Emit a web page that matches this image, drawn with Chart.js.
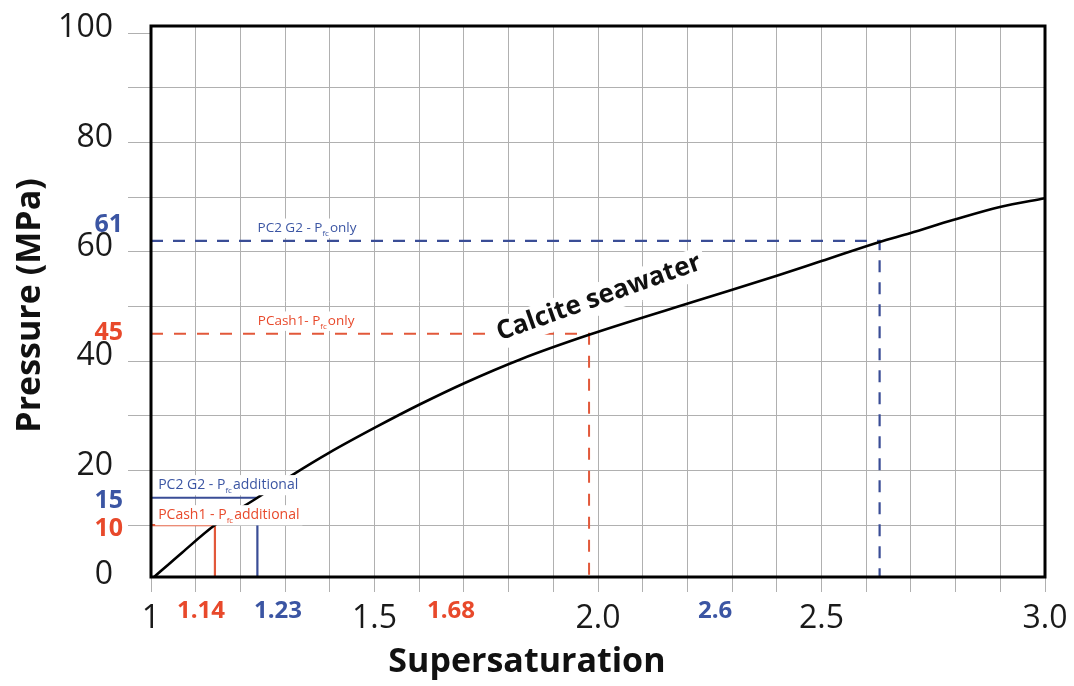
<!DOCTYPE html>
<html>
<head>
<meta charset="utf-8">
<script src="https://cdn.jsdelivr.net/npm/chart.js@4.4.1/dist/chart.umd.min.js"></script>
<style>
  html, body { margin: 0; padding: 0; background: #fff; }
  #wrap { width: 1074px; height: 686px; }
</style>
</head>
<body>
<div id="wrap"><canvas id="satChart" width="1074" height="686"></canvas></div>
<script>
// Calcite seawater curve
const supersat = [1.0, 1.07, 1.143, 1.238, 1.315, 1.40, 1.505, 1.602, 1.702, 1.826, 1.98, 2.228, 2.40, 2.50, 2.63, 2.698, 2.794, 2.899, 3.0];
const pressure = [0, 5.0, 10, 15, 19.1, 23.3, 28.0, 32.1, 36.0, 40.3, 44.8, 51.2, 55.6, 58.3, 61.8, 63.4, 65.8, 68.2, 69.8];

// guide lines: pressure level, supersaturation where they hit the curve, top of the drop line
const guideLevel = [62, 45, 15, 10];
const guideCross = [2.63, 1.98, 1.238, 1.143];
const guideDropFrom = [62, 45, 10, 10];

const xTickLabels = [1, 1.5, 2.0, 2.5, 3.0];
const yTickLabels = [0, 20, 40, 60, 80, 100];
const yMarks = ['61', '45', '15', '10'];
const xMarks = ['1.14', '1.23', '1.68', '2.6'];

const BLUE = '#3a4d96';
const BLUE_TXT = '#3b55a3';
const RED = '#e2583a';
const RED_TXT = '#e8492b';
const GRID = '#b0b0b0';
const FONT = "'Open Sans', 'Noto Sans', sans-serif";

const guideStyle = [
    { color: BLUE, dash: [12, 10], width: 2.2 },
    { color: RED, dash: [12, 11], width: 2 },
    { color: BLUE, dash: [], width: 2.2 },
    { color: RED, dash: [], width: 2.2 }
];

function guideData(i) {
    const pts = [{ x: 1, y: guideLevel[i] }, { x: guideCross[i], y: guideLevel[i] }];
    if (guideDropFrom[i] < guideLevel[i]) pts.push({ x: guideCross[i], y: null });
    pts.push({ x: guideCross[i], y: guideDropFrom[i] }, { x: guideCross[i], y: 0 });
    return pts;
}

// label text with a "fc" subscript after the P
function fcLabel(ctx, pre, post, px, py, size, color, align) {
    const main = size + 'px ' + FONT;
    const sub = Math.round(size * 0.6) + 'px ' + FONT;
    ctx.font = main;
    const w1 = ctx.measureText(pre).width;
    const w3 = ctx.measureText(post).width;
    ctx.font = sub;
    const w2 = ctx.measureText('fc').width + 1;
    const total = w1 + w2 + w3;
    const left = align === 'left' ? px : px - total / 2;
    ctx.fillStyle = '#fff';
    ctx.fillRect(left - 3, py - size * 0.72, total + 6, size * 1.44);
    ctx.fillStyle = color;
    ctx.textBaseline = 'middle';
    ctx.textAlign = 'left';
    ctx.font = main;
    ctx.fillText(pre, left, py);
    ctx.font = sub;
    ctx.fillText('fc', left + w1, py + size * 0.38);
    ctx.font = main;
    ctx.fillText(post, left + w1 + w2, py);
}

const overlay = {
    id: 'overlay',
    afterDatasetsDraw(chart) {
        const { ctx, chartArea: a, scales: { x, y } } = chart;
        ctx.save();

        // curve name, rotated along the line
        ctx.save();
        ctx.translate(x.getPixelForValue(2.002), y.getPixelForValue(51.6));
        ctx.rotate(-19.5 * Math.PI / 180);
        ctx.font = 'bold 26px ' + FONT;
        const cw = ctx.measureText('Calcite seawater').width;
        ctx.fillStyle = '#fff';
        ctx.fillRect(-cw / 2 - 5, -15, cw + 10, 32);
        ctx.fillStyle = '#111';
        ctx.textAlign = 'center';
        ctx.textBaseline = 'middle';
        ctx.fillText('Calcite seawater', 0, 0);
        ctx.restore();

        fcLabel(ctx, 'PC2 G2 - P', 'only', x.getPixelForValue(1.349), y.getPixelForValue(64.3), 13.5, BLUE_TXT, 'center');
        fcLabel(ctx, 'PCash1- P', 'only', x.getPixelForValue(1.347), y.getPixelForValue(47.3), 13.5, RED_TXT, 'center');
        fcLabel(ctx, 'PC2 G2 - P', 'additional', x.getPixelForValue(1.016), y.getPixelForValue(17.3), 14, BLUE_TXT, 'left');
        fcLabel(ctx, 'PCash1 - P', 'additional', x.getPixelForValue(1.016), y.getPixelForValue(11.8), 14, RED_TXT, 'left');

        // heavy frame
        ctx.strokeStyle = '#000';
        ctx.lineWidth = 3;
        ctx.strokeRect(a.left, a.top, a.right - a.left, a.bottom - a.top);
        ctx.restore();
    },
    afterDraw(chart) {
        const { ctx, chartArea: a, scales: { x, y } } = chart;
        ctx.save();
        ctx.font = 'bold 25px ' + FONT;
        ctx.textBaseline = 'middle';
        ctx.textAlign = 'right';
        const yAt = [64.9, 45.1, 14.4, 9.3];
        yMarks.forEach((t, i) => {
            ctx.fillStyle = i % 2 === 0 ? BLUE_TXT : RED_TXT;
            ctx.fillText(t, 123, y.getPixelForValue(yAt[i]));
        });
        ctx.textAlign = 'center';
        ctx.font = 'bold 24px ' + FONT;
        const xAt = [1.112, 1.284, 1.671, 2.262];
        const xCol = [RED_TXT, BLUE_TXT, RED_TXT, BLUE_TXT];
        xMarks.forEach((t, i) => {
            ctx.fillStyle = xCol[i];
            ctx.fillText(t, x.getPixelForValue(xAt[i]), a.bottom + 34);
        });

        // axis titles
        ctx.fillStyle = '#111';
        ctx.font = 'bold 34px ' + FONT;
        ctx.fillText('Supersaturation', x.getPixelForValue(1.841), 662);
        ctx.save();
        ctx.translate(30, (a.top + a.bottom) / 2 + 4);
        ctx.rotate(-Math.PI / 2);
        ctx.fillText('Pressure (MPa)', 0, 0);
        ctx.restore();
        ctx.restore();
    }
};

const datasets = [{
    label: 'Calcite seawater',
    data: supersat.map((s, i) => ({ x: s, y: pressure[i] })),
    borderColor: '#000',
    borderWidth: 2.6,
    pointRadius: 0,
    cubicInterpolationMode: 'monotone'
}];
guideLevel.forEach((lvl, i) => {
    datasets.push({
        label: 'guide ' + i,
        data: guideData(i),
        borderColor: guideStyle[i].color,
        borderWidth: guideStyle[i].width,
        borderDash: guideStyle[i].dash,
        pointRadius: 0,
        tension: 0,
        spanGaps: false
    });
});

new Chart(document.getElementById('satChart').getContext('2d'), {
    type: 'line',
    data: { datasets: datasets },
    options: {
        responsive: false,
        animation: false,
        layout: { padding: { top: 26, right: 29, left: 0, bottom: 0 } },
        plugins: { legend: { display: false }, tooltip: { enabled: false } },
        scales: {
            x: {
                type: 'linear',
                min: 1,
                max: 3,
                afterBuildTicks(s) {
                    s.ticks = [];
                    for (let i = 0; i <= 20; i++) s.ticks.push({ value: 1 + i / 10 });
                },
                afterFit(s) { s.height = 109; s.paddingLeft = 0; s.paddingRight = 0; },
                border: { display: false },
                grid: { color: GRID, lineWidth: 1, tickLength: 15 },
                ticks: {
                    autoSkip: false,
                    maxRotation: 0,
                    padding: 8,
                    color: '#1a1a1a',
                    font: { family: FONT, size: 32, weight: 'normal' },
                    callback(v) {
                        const m = xTickLabels.find(t => Math.abs(t - v) < 1e-6);
                        if (m === undefined) return '';
                        return m === 1 ? '1' : m.toFixed(1);
                    }
                }
            },
            y: {
                type: 'linear',
                min: 0.5,
                max: 101.3,
                afterBuildTicks(s) {
                    s.ticks = [];
                    for (let v = 0; v <= 100; v += 10) s.ticks.push({ value: v });
                },
                afterFit(s) { s.width = 151; s.paddingTop = 0; s.paddingBottom = 0; },
                border: { display: false },
                grid: {
                    lineWidth: 1,
                    tickLength: 23,
                    color: c => (c.tick && (c.tick.value === 0 || c.tick.value === 100)) ? 'rgba(0,0,0,0)' : GRID,
                    tickColor: c => (c.tick && c.tick.value === 0) ? 'rgba(0,0,0,0)' : GRID
                },
                ticks: {
                    autoSkip: false,
                    padding: 15,
                    color: '#1a1a1a',
                    // empty second line lifts the numbers a little, as in the figure
                    font: { family: FONT, size: 32, weight: 'normal', lineHeight: 0.3 },
                    callback(v) { return yTickLabels.includes(v) ? [String(v), ''] : ''; }
                }
            }
        }
    },
    plugins: [overlay]
});
</script>
</body>
</html>
